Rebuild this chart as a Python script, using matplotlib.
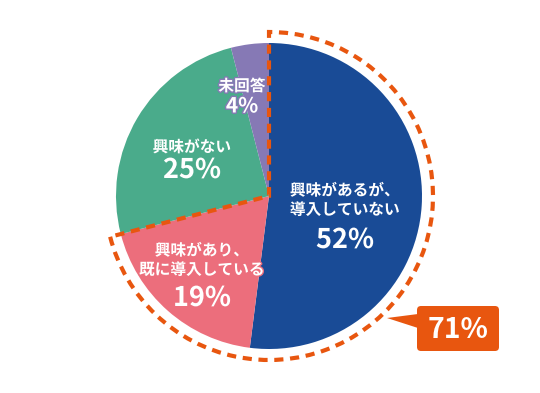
import matplotlib.pyplot as plt
from matplotlib.patches import Wedge, FancyBboxPatch, Polygon
import matplotlib.patheffects as pe

plt.rcParams['font.family'] = ['Noto Sans CJK JP', 'DejaVu Sans']

# data
labels = ['興味があるが、\n導入していない', '興味があり、\n既に導入している', '興味がない', '未回答']
values = [52, 19, 25, 4]
colors = ['#194b96', '#ec6e7c', '#4aab8b', '#8679b5']
total_label = '71%'

W, H = 540, 393
fig = plt.figure(figsize=(W / 100, H / 100), dpi=100)
ax = fig.add_axes([0, 0, 1, 1])

cx, cy = 269, H - 196
r = 153

ax.pie(values, colors=colors, startangle=90, counterclock=False,
       center=(cx, cy), radius=r, frame=True,
       wedgeprops=dict(linewidth=0))
ax.set_xlim(0, W)
ax.set_ylim(0, H)
ax.set_aspect('equal')
ax.axis('off')

# dashed outline around first two slices
share = (values[0] + values[1]) / sum(values)
end_angle = 90 - share * 360
orange = '#e8560f'
ax.add_patch(Wedge((cx, cy), 164, end_angle, 90, fill=False,
                   edgecolor=orange, linewidth=3, linestyle=(0, (2.2, 1.6)),
                   zorder=5))

# slice labels
pos = [(345, 200, 240), (202, 260, 298), (192, 147, 170), (242, 86, 106)]
for (x, y1, y2), lab, val, c in zip(pos, labels, values, colors):
    fx = [pe.withStroke(linewidth=2, foreground=c)]
    ax.text(x, H - y1, lab, ha='center', va='center', color='white',
            fontsize=11.3, fontweight='bold', linespacing=1.25,
            path_effects=fx, zorder=6)
    ax.text(x, H - y2, f'{val}%', ha='center', va='center', color='white',
            fontsize=19.5 if val > 9 else 15, fontweight='bold',
            path_effects=fx, zorder=6)

# callout box
ax.add_patch(FancyBboxPatch((417, H - 351), 82, 45,
                            boxstyle='round,pad=0,rounding_size=4',
                            facecolor=orange, edgecolor='none', zorder=6))
ax.add_patch(Polygon([(387, H - 318), (418, H - 314), (418, H - 328)],
                     closed=True, facecolor=orange, edgecolor='none', zorder=6))
ax.text(458, H - 330, total_label, ha='center', va='center', color='white',
        fontsize=20.5, fontweight='bold', zorder=7)

fig.savefig('out.png', dpi=100)
